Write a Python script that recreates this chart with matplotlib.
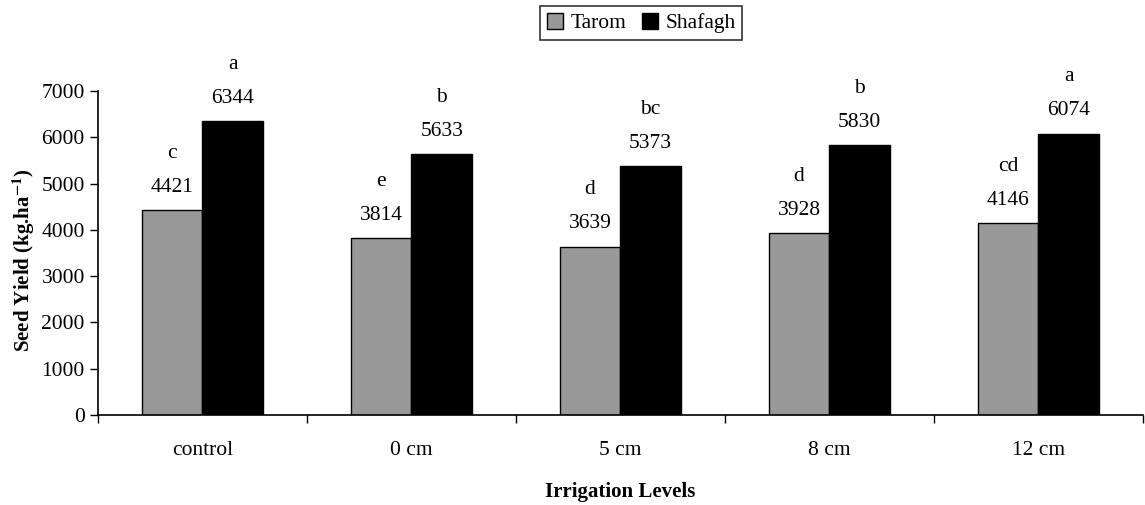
import matplotlib
matplotlib.use("Agg")
import matplotlib.pyplot as plt
import numpy as np

categories = ["control", "0 cm", "5 cm", "8 cm", "12 cm"]
tarom = [4421, 3814, 3639, 3928, 4146]
shafagh = [6344, 5633, 5373, 5830, 6074]
tarom_letters = ["c", "e", "d", "d", "cd"]
shafagh_letters = ["a", "b", "bc", "b", "a"]

plt.rcParams['font.family'] = ['Liberation Serif', 'DejaVu Serif']
plt.rcParams['mathtext.fontset'] = 'stix'

fig = plt.figure(figsize=(11.45, 5.05), dpi=100)
ax = fig.add_axes([0.0856, 0.178, 0.9124, 0.642])

x = np.arange(len(categories))
w = 0.29
b1 = ax.bar(x - w/2, tarom, w, color="#999999", edgecolor="black", linewidth=1, label="Tarom")
b2 = ax.bar(x + w/2, shafagh, w, color="black", edgecolor="black", linewidth=1, label="Shafagh")

fs = 15.5
for xs, vals, lets in [(x - w/2, tarom, tarom_letters), (x + w/2, shafagh, shafagh_letters)]:
    for xi, v, l in zip(xs, vals, lets):
        ax.annotate(str(v), (xi, v), xytext=(0, 16.5), textcoords="offset points",
                    ha="center", va="center", fontsize=fs)
        ax.annotate(l, (xi, v), xytext=(0, 41), textcoords="offset points",
                    ha="center", va="center", fontsize=fs)

ax.set_xlim(-0.5, len(categories) - 0.5)
ax.set_ylim(0, 7000)
ax.set_yticks(np.arange(0, 7001, 1000))
ax.set_xticks(np.arange(-0.5, len(categories) + 0.5, 1))
ax.set_xticklabels([])
ax.set_xticks(x, minor=True)
ax.set_xticklabels(categories, minor=True)
ax.tick_params(axis='x', which='minor', length=0, labelsize=fs, pad=19)
ax.tick_params(axis='x', which='major', length=6, direction='out', width=1)
ax.tick_params(axis='y', length=6, direction='out', width=1, labelsize=fs)
ax.spines['top'].set_visible(False)
ax.spines['right'].set_visible(False)
ax.spines['left'].set_linewidth(1.2)
ax.spines['bottom'].set_linewidth(1.2)

ax.set_ylabel(r"Seed Yield (kg.ha$^{\mathbf{-1}}$)", fontsize=15, fontweight="bold")
ax.yaxis.set_label_coords(-0.058, 0.478)
ax.set_xlabel("Irrigation Levels", fontsize=15, fontweight="bold")
ax.xaxis.set_label_coords(0.5, -0.205)

leg = fig.legend(handles=[b1, b2], loc="upper center", bbox_to_anchor=(0.56, 1.0), ncol=2,
                 frameon=True, fancybox=False, edgecolor="black", fontsize=15.5,
                 handlelength=0.75, handleheight=0.75, handletextpad=0.35, columnspacing=0.7,
                 borderpad=0.3, borderaxespad=0.3)
leg.get_frame().set_linewidth(1.2)

fig.savefig("out.png", dpi=100)
